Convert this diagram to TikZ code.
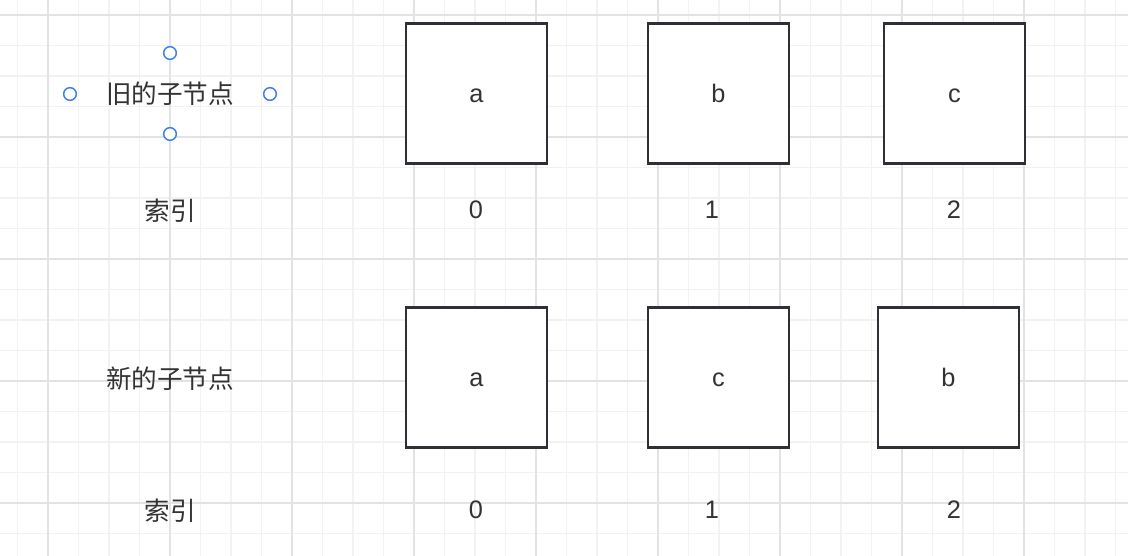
\documentclass[tikz,border=0pt]{standalone}
\usepackage{fontspec}
\setmainfont{Liberation Sans}
\newfontfamily\cjk{Noto Sans CJK SC}
\definecolor{inkgray}{HTML}{333333}
\definecolor{boxline}{HTML}{2D3035}
\definecolor{handleblue}{HTML}{3B7FE8}
\definecolor{minorline}{HTML}{F2F2F2}
\definecolor{majorline}{HTML}{E3E3E3}

\tikzset{
  minor grid/.style={draw=minorline, line width=1.2pt},
  major grid/.style={draw=majorline, line width=1.5pt},
  vnode/.style={draw=boxline, line width=1.9pt, fill=white, minimum width=105.5pt, minimum height=105pt, inner sep=0pt, text height=14.2pt, text depth=0pt, text=inkgray, font=\fontsize{19}{21}\selectfont},
  label/.style={text=inkgray, font=\fontsize{19.2}{21}\selectfont\cjk, inner sep=0pt},
  idx/.style={text=inkgray, font=\fontsize{19}{21}\selectfont, inner sep=0pt},
  handle/.style={circle, draw=handleblue, line width=1.1pt, fill=white, minimum size=9.5pt, inner sep=0pt}
}

\begin{document}
\begin{tikzpicture}[x=0.75pt, y=0.75pt]
  \useasboundingbox (0,0) rectangle (1128,-556);
  \fill[white] (0,0) rectangle (1128,-556);
  % background grid
  \begin{scope}[shift={(48,-15)}]
    \clip (-48,15) rectangle (1080,-541);
    \draw[minor grid, step=30.5] (-61,30) grid (1098,-549);
    \draw[major grid, step=122] (-61,30) grid (1098,-549);
  \end{scope}

  % old children
  \node[label] (oldlabel) at (170,-94) {旧的子节点};
  \node[handle] (ht) at (170,-53) {};
  \node[handle] (hl) at (70,-94) {};
  \node[handle] (hr) at (270,-94) {};
  \node[handle] (hb) at (170,-134) {};
  \node[vnode] (olda) at (476.5,-93.5) {a};
  \node[vnode] (oldb) at (718.5,-93.5) {b};
  \node[vnode] (oldc) at (954.5,-93.5) {c};
  \node[label] (oldidx) at (170,-211) {索引};
  \node[idx] (oldi0) at (476,-210) {0};
  \node[idx] (oldi1) at (712,-210) {1};
  \node[idx] (oldi2) at (954,-210) {2};

  % new children
  \node[label] (newlabel) at (170,-379) {新的子节点};
  \node[vnode] (newa) at (476.5,-377.5) {a};
  \node[vnode] (newc) at (718.5,-377.5) {c};
  \node[vnode] (newb) at (948.5,-377.5) {b};
  \node[label] (newidx) at (170,-511) {索引};
  \node[idx] (newi0) at (476,-510) {0};
  \node[idx] (newi1) at (712,-510) {1};
  \node[idx] (newi2) at (954,-510) {2};
\end{tikzpicture}
\end{document}
